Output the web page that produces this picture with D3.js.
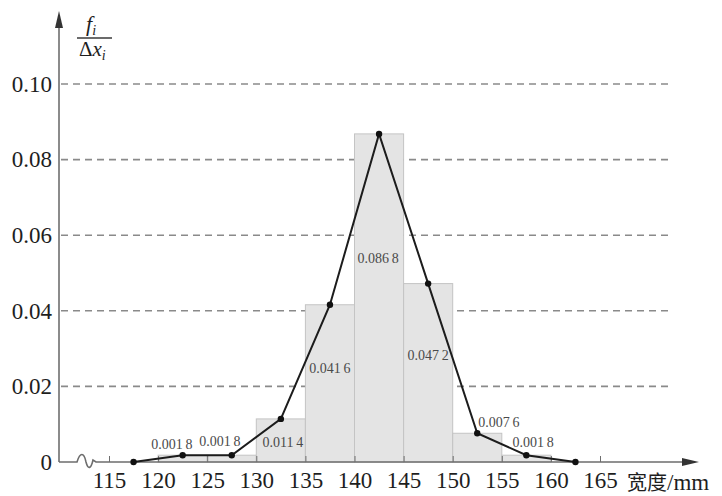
<!DOCTYPE html>
<html>
<head>
<meta charset="utf-8">
<script src="https://cdn.jsdelivr.net/npm/d3@7"></script>
<style>
  html, body { margin: 0; padding: 0; background: #ffffff; }
  svg { display: block; }
  .serif { font-family: "Liberation Serif", "Times New Roman", "DejaVu Serif", serif; }
</style>
</head>
<body>
<svg id="chart" width="722" height="496"></svg>
<script>
// Histogram of widths (class width 5 mm) with frequency polygon
const binStarts = [120, 125, 130, 135, 140, 145, 150, 155];
const binWidth = 5;
const density = [0.0018, 0.0018, 0.0114, 0.0416, 0.0868, 0.0472, 0.0076, 0.0018];

// Frequency polygon: class midpoints, closed with zero-height neighbours
const polyX = [117.5, 122.5, 127.5, 132.5, 137.5, 142.5, 147.5, 152.5, 157.5, 162.5];
const polyY = [0, 0.0018, 0.0018, 0.0114, 0.0416, 0.0868, 0.0472, 0.0076, 0.0018, 0];

const xTicks = [115, 120, 125, 130, 135, 140, 145, 150, 155, 160, 165];
const yTicks = [0, 0.02, 0.04, 0.06, 0.08, 0.10];

// Anchor (centre, baseline) of each value label, in data units
const labelAnchorX = [121.4, 126.3, 132.7, 137.5, 142.4, 147.5, 154.7, 158.2];
const labelAnchorY = [0.0034, 0.0042, 0.0040, 0.0235, 0.0526, 0.0270, 0.0093, 0.0040];

const svg = d3.select("#chart");

const x = d3.scaleLinear().domain([115, 165]).range([109, 600]);
const y = d3.scaleLinear().domain([0, 0.10]).range([462, 84]);
const axisX0 = 59;

const axisColor = "#6e6e6e";
const textColor = "#1e1e1e";

// horizontal dashed grid lines
svg.append("g")
  .selectAll("line")
  .data(yTicks.filter(d => d > 0))
  .join("line")
  .attr("x1", axisX0 + 2)
  .attr("x2", 673)
  .attr("y1", d => y(d))
  .attr("y2", d => y(d))
  .attr("stroke", "#8a8a8a")
  .attr("stroke-width", 1.6)
  .attr("stroke-dasharray", "7,5");

// histogram bars
svg.append("g")
  .selectAll("rect")
  .data(binStarts.map((s, i) => ({ s, v: density[i] })))
  .join("rect")
  .attr("x", d => x(d.s))
  .attr("width", d => x(d.s + binWidth) - x(d.s))
  .attr("y", d => y(d.v))
  .attr("height", d => y(0) - y(d.v))
  .attr("fill", "#e4e4e4")
  .attr("stroke", "#c4c4c4")
  .attr("stroke-width", 1);

// x axis (ticks point upward, labels below)
const xAxis = d3.axisBottom(x)
  .tickValues(xTicks)
  .tickSize(-6)
  .tickPadding(10)
  .tickFormat(d3.format("d"));

const gx = svg.append("g")
  .attr("transform", `translate(0,${y(0)})`)
  .call(xAxis)
  .attr("font-family", null)
  .attr("font-size", null)
  .attr("class", "serif");
gx.select(".domain").remove();
gx.selectAll(".tick line").attr("stroke", axisColor).attr("stroke-width", 1);
gx.selectAll(".tick text")
  .style("font-size", "23px")
  .attr("fill", textColor);

// x axis line with a break near the origin and an arrow head
const x0 = y(0);
svg.append("path")
  .attr("d", `M${axisX0},${x0} H72 L77,${x0} C80,${x0 - 10} 84,${x0 - 10} 86,${x0} C88,${x0 + 8} 91,${x0 + 7} 93,${x0 - 2} L96,${x0} H688`)
  .attr("fill", "none")
  .attr("stroke", axisColor)
  .attr("stroke-width", 1.6);
svg.append("path")
  .attr("d", `M699,${x0} L682,${x0 - 4} L682,${x0 + 4} Z`)
  .attr("fill", "#333");

// y axis
const yAxis = d3.axisLeft(y)
  .tickValues(yTicks)
  .tickSize(0)
  .tickPadding(7)
  .tickFormat(d => d === 0 ? "0" : d3.format(".2f")(d));
const gy = svg.append("g")
  .attr("transform", `translate(${axisX0},0)`)
  .call(yAxis)
  .attr("font-family", null)
  .attr("font-size", null)
  .attr("class", "serif");
gy.select(".domain").remove();
gy.selectAll(".tick text")
  .style("font-size", "23px")
  .attr("fill", textColor);

svg.append("line")
  .attr("x1", axisX0).attr("x2", axisX0)
  .attr("y1", y(0)).attr("y2", 24)
  .attr("stroke", axisColor)
  .attr("stroke-width", 1.6);
svg.append("path")
  .attr("d", `M${axisX0},11 L${axisX0 - 4},28 L${axisX0 + 4},28 Z`)
  .attr("fill", "#333");

// y axis title: f_i / Δx_i
const ttl = svg.append("g").attr("class", "serif").attr("fill", textColor);
const t1 = ttl.append("text").attr("x", 86).attr("y", 31)
  .style("font-size", "22px").style("font-style", "italic");
t1.append("tspan").text("f");
t1.append("tspan").style("font-size", "14px").attr("dy", 4).text("i");
ttl.append("line")
  .attr("x1", 77).attr("x2", 112).attr("y1", 38).attr("y2", 38)
  .attr("stroke", "#3a3a3a").attr("stroke-width", 1.3);
const t2 = ttl.append("text").attr("x", 79).attr("y", 56).style("font-size", "21px");
t2.append("tspan").text("Δ");
t2.append("tspan").style("font-style", "italic").text("x");
t2.append("tspan").style("font-style", "italic").style("font-size", "14px").attr("dy", 4).text("i");

// x axis title
const xt = svg.append("text").attr("x", 627).attr("y", 490).attr("fill", textColor);
xt.append("tspan")
  .style("font-family", "'Noto Sans CJK SC', sans-serif")
  .style("font-size", "20px")
  .text("宽度");
xt.append("tspan")
  .attr("class", "serif")
  .style("font-size", "23px")
  .text("/mm");

// value labels, digits grouped as 0.001 8
const fmt = v => {
  const s = d3.format(".4f")(v);
  return s.slice(0, -1) + "\u2009" + s.slice(-1);
};
svg.append("g")
  .attr("class", "serif")
  .selectAll("text")
  .data(density)
  .join("text")
  .attr("x", (d, i) => x(labelAnchorX[i]))
  .attr("y", (d, i) => y(labelAnchorY[i]))
  .attr("text-anchor", "middle")
  .style("font-size", "14px")
  .attr("fill", "#4a4a4a")
  .text(d => fmt(d));

// frequency polygon
const pts = polyX.map((v, i) => [v, polyY[i]]);
svg.append("path")
  .datum(pts)
  .attr("d", d3.line().x(d => x(d[0])).y(d => y(d[1])))
  .attr("fill", "none")
  .attr("stroke", "#1c1c1c")
  .attr("stroke-width", 2);
svg.append("g")
  .selectAll("circle")
  .data(pts)
  .join("circle")
  .attr("cx", d => x(d[0]))
  .attr("cy", d => y(d[1]))
  .attr("r", 3.2)
  .attr("fill", "#111");
</script>
</body>
</html>
